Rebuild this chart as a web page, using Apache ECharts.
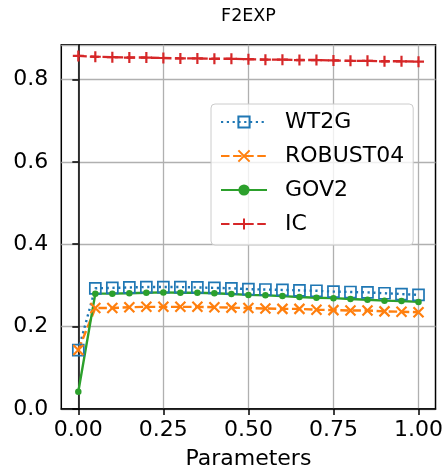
<!DOCTYPE html>
<html>
<head>
<meta charset="utf-8">
<script src="https://cdn.jsdelivr.net/npm/echarts@6/dist/echarts.min.js"></script>
<style>
  html, body { margin: 0; padding: 0; background: #fff; }
  #main { width: 446px; height: 475px; }
</style>
</head>
<body>
<div id="main"></div>
<script>
// x 参数
const params = [0, 0.05, 0.1, 0.15, 0.2, 0.25, 0.3, 0.35, 0.4, 0.45, 0.5,
  0.55, 0.6, 0.65, 0.7, 0.75, 0.8, 0.85, 0.9, 0.95, 1.0]
const wt2g = [0.143, 0.293, 0.294, 0.295, 0.296, 0.296, 0.296, 0.295, 0.294, 0.293, 0.291,
  0.290, 0.289, 0.288, 0.287, 0.285, 0.284, 0.283, 0.281, 0.279, 0.277]
const robust04 = [0.143, 0.245, 0.245, 0.247, 0.248, 0.248, 0.248, 0.248, 0.247, 0.246, 0.245,
  0.244, 0.243, 0.243, 0.241, 0.240, 0.239, 0.239, 0.237, 0.236, 0.235]
const gov2 = [0.042, 0.280, 0.280, 0.281, 0.282, 0.283, 0.282, 0.282, 0.281, 0.279, 0.277,
  0.276, 0.274, 0.272, 0.270, 0.269, 0.267, 0.265, 0.263, 0.262, 0.260]
const ic = [0.857, 0.855, 0.854, 0.853, 0.853, 0.852, 0.851, 0.851, 0.850, 0.850, 0.849,
  0.848, 0.848, 0.847, 0.847, 0.846, 0.845, 0.845, 0.844, 0.844, 0.843]
const xTicks = [0, 0.25, 0.5, 0.75, 1.0]

const pairs = ys => params.map((x, i) => [x, ys[i]])
const font = 'DejaVu Sans'

const chart = echarts.init(document.getElementById('main'))
chart.setOption({
  animation: false,
  backgroundColor: '#fff',
  title: {
    text: 'F2EXP',
    left: 248.5,
    textAlign: 'center',
    top: 7,
    padding: 0,
    textStyle: { fontFamily: font, fontSize: 17.5, fontWeight: 'normal', color: '#000' }
  },
  legend: {
    orient: 'vertical',
    left: 211,
    top: 104,
    padding: [7, 9, 10, 9],
    itemWidth: 46,
    itemHeight: 14,
    itemGap: 12,
    backgroundColor: 'rgba(255,255,255,0.8)',
    borderColor: '#ccc',
    borderWidth: 1,
    borderRadius: 4,
    textStyle: { fontFamily: font, fontSize: 22, color: '#000', lineHeight: 22, padding: [0, 0, 0, 13] },
    data: ['WT2G', 'ROBUST04', 'GOV2', 'IC']
  },
  grid: {
    left: 61.3, right: 10.3, top: 44.8, bottom: 62.3,
    show: true, borderColor: '#000', borderWidth: 1.5, backgroundColor: '#fff'
  },
  xAxis: {
    type: 'value',
    min: -0.05,
    max: 1.05,
    name: 'Parameters',
    nameLocation: 'middle',
    nameGap: 39,
    nameTextStyle: { fontFamily: font, fontSize: 22, color: '#000' },
    axisLine: { show: true, lineStyle: { color: '#000', width: 1.5 } },
    axisTick: { show: true, length: 6, customValues: xTicks, lineStyle: { color: '#000', width: 1.5 } },
    axisLabel: {
      customValues: xTicks,
      margin: 10,
      fontFamily: font, fontSize: 22, color: '#000',
      formatter: v => v.toFixed(2)
    },
    splitLine: { show: true, lineStyle: { color: '#b0b0b0', width: 1.3 } }
  },
  yAxis: {
    type: 'value',
    min: 0,
    max: 0.884,
    interval: 0.2,
    axisLine: { show: true, lineStyle: { color: '#000', width: 1.5 } },
    axisTick: { show: true, length: 6, lineStyle: { color: '#000', width: 1.5 } },
    axisLabel: {
      margin: 13,
      fontFamily: font, fontSize: 22, color: '#000',
      showMaxLabel: false,
      formatter: v => (Math.abs(v * 5 - Math.round(v * 5)) < 1e-6 ? v.toFixed(1) : '')
    },
    splitLine: { show: true, lineStyle: { color: '#b0b0b0', width: 1.3 } }
  },
  series: [
    {
      name: 'WT2G',
      type: 'line',
      data: pairs(wt2g),
      symbol: 'rect',
      symbolSize: 11,
      color: '#1f77b4',
      itemStyle: { color: 'rgba(255,255,255,0)', borderColor: '#1f77b4', borderWidth: 1.7 },
      lineStyle: { color: '#1f77b4', width: 2.4, type: [2.2, 3.6] }
    },
    {
      name: 'ROBUST04',
      type: 'line',
      data: pairs(robust04),
      symbol: 'path://M0,0L10,10M0,10L10,0',
      symbolSize: 10,
      color: '#ff7f0e',
      itemStyle: { color: '#ff7f0e', borderColor: '#ff7f0e', borderWidth: 2.2 },
      lineStyle: { color: '#ff7f0e', width: 2.4, type: [8.5, 3.6] }
    },
    {
      name: 'GOV2',
      type: 'line',
      data: pairs(gov2),
      symbol: 'circle',
      symbolSize: 6.5,
      color: '#2ca02c',
      itemStyle: { color: '#2ca02c', borderColor: '#2ca02c', borderWidth: 0 },
      lineStyle: { color: '#2ca02c', width: 2.4, type: 'solid' }
    },
    {
      name: 'IC',
      type: 'line',
      data: pairs(ic),
      symbol: 'path://M5,0L5,10M0,5L10,5',
      symbolSize: 11,
      color: '#d62728',
      itemStyle: { color: '#d62728', borderColor: '#d62728', borderWidth: 2.2 },
      lineStyle: { color: '#d62728', width: 2.4, type: [8.5, 3.6] }
    }
  ]
})
</script>
</body>
</html>
